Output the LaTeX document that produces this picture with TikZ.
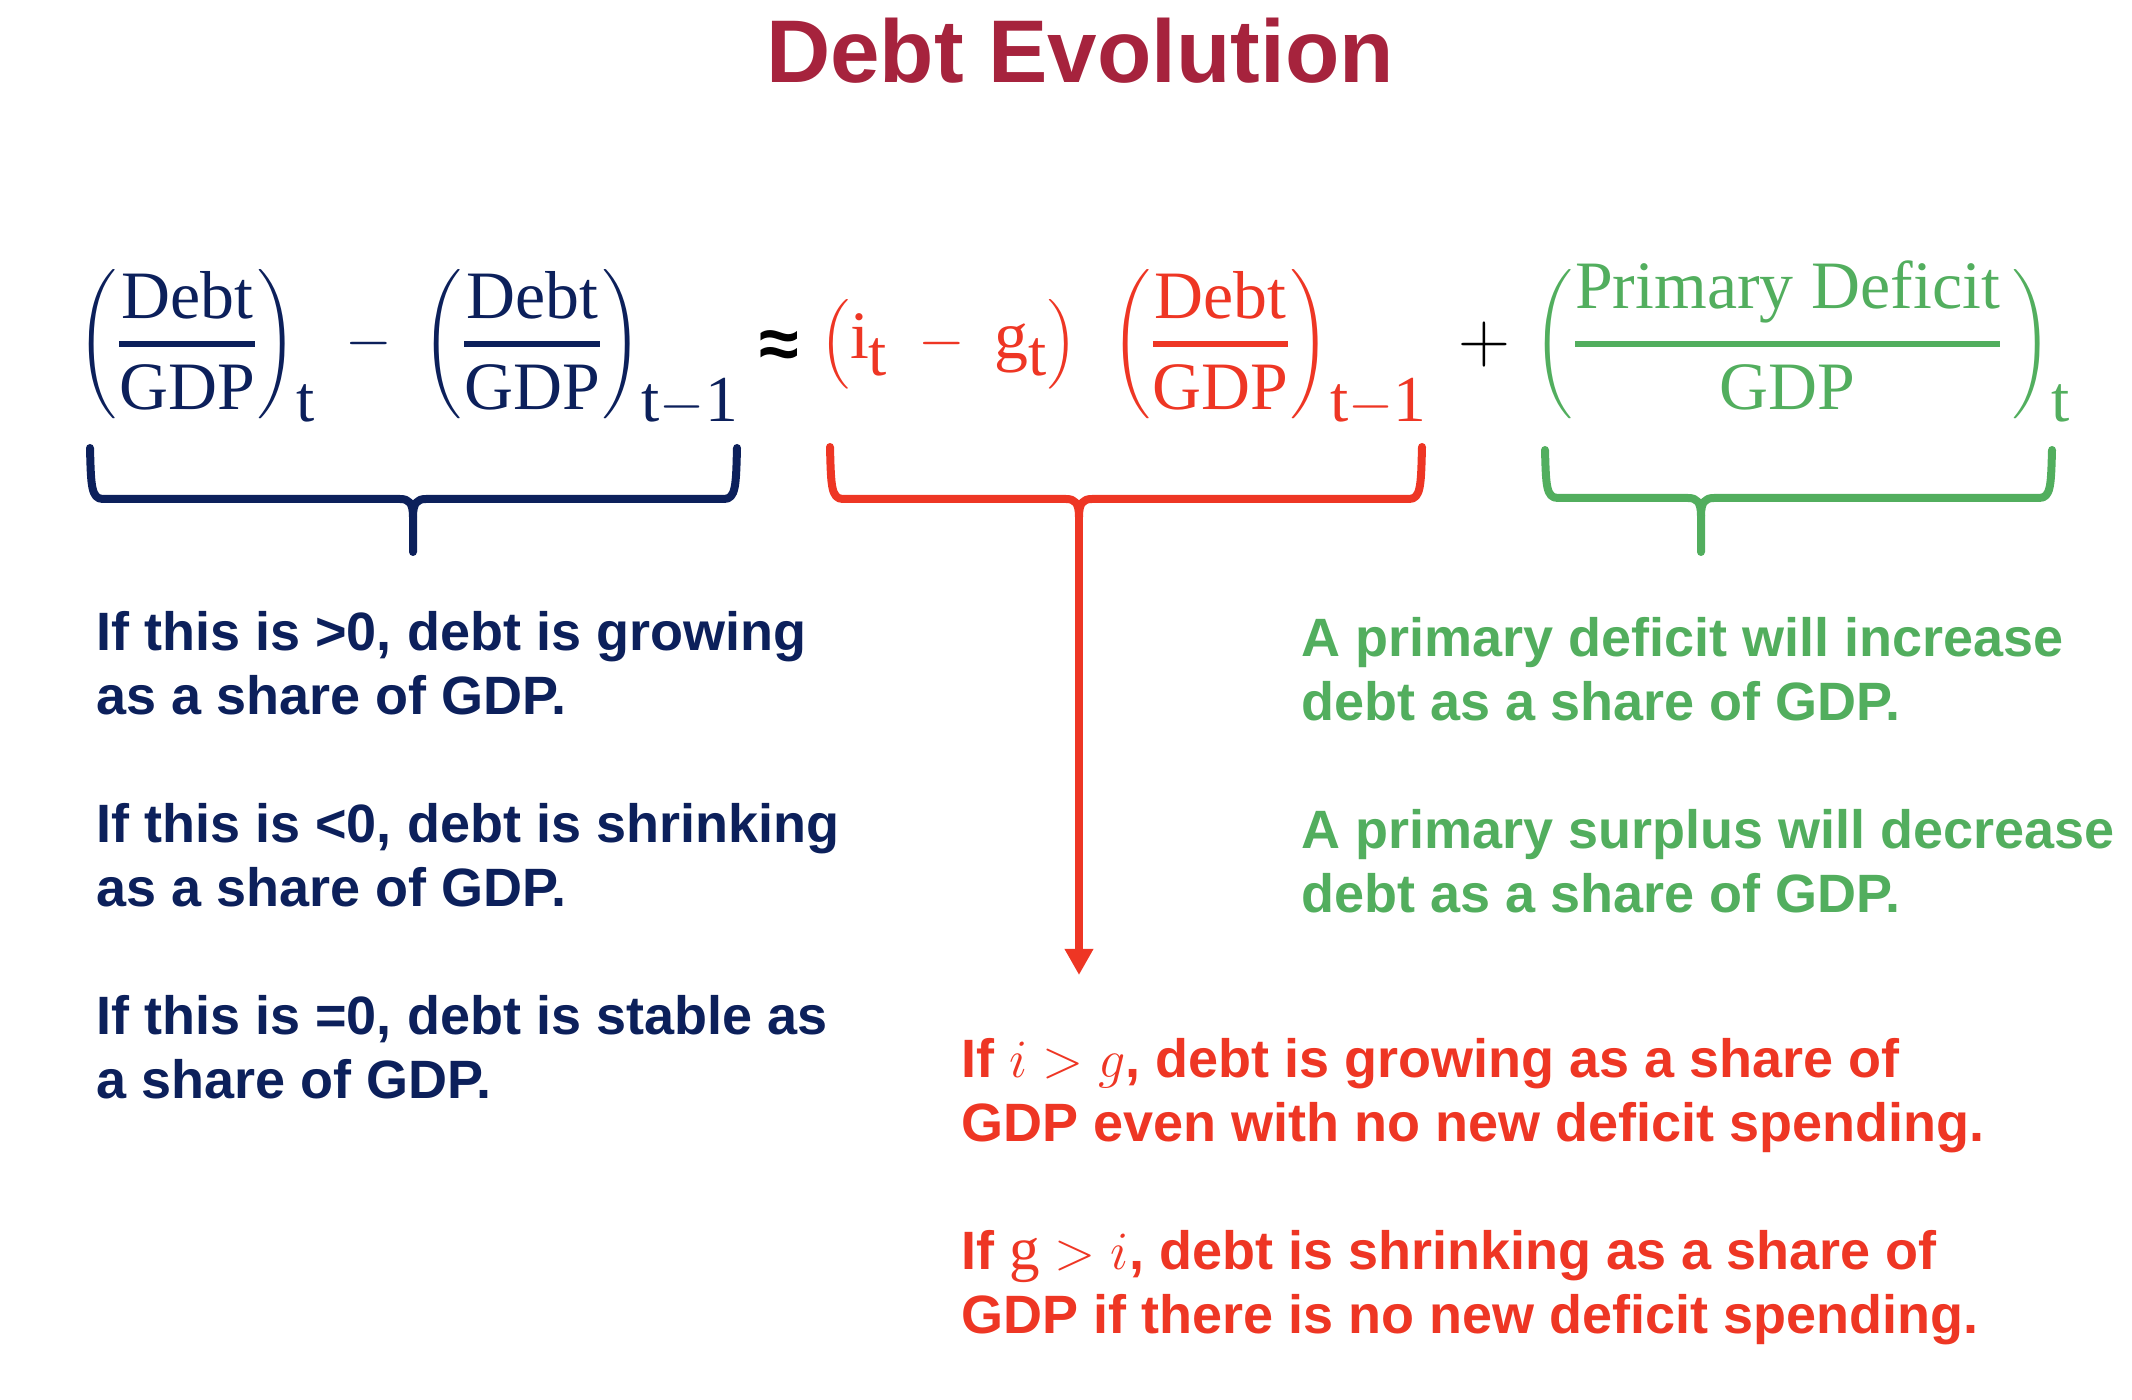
\RequirePackage{fix-cm}
\documentclass[tikz,border=0pt]{standalone}
\usepackage{amsmath}
\usepackage{fontspec}
\newfontfamily\arialbf{Liberation Sans}
\setmathrm{Liberation Serif}[Scale=1.13]
\DeclareMathSizes{30}{30}{29}{20}
\newcommand{\thickfrac}[2]{\genfrac{}{}{3pt}{0}{#1}{#2}}
\usetikzlibrary{arrows.meta}
\definecolor{navyc}{RGB}{12,32,91}
\definecolor{redc}{RGB}{238,54,36}
\definecolor{greenc}{RGB}{82,174,94}
\definecolor{titlec}{RGB}{166,35,61}
\begin{document}
\begin{tikzpicture}[x=0.5pt,y=-0.5pt,
  brace/.style={line width=4pt,line cap=round,line join=round},
  eq/.style={inner sep=0pt,anchor=base west,font=\fontsize{30}{36}\selectfont},
  note/.style={inner sep=0pt,anchor=base west,align=left,font=\arialbf\bfseries\fontsize{27}{32}\selectfont}]
\useasboundingbox (0,0) rectangle (2132,1400);
\node[inner sep=0pt,anchor=base,text=titlec,font=\arialbf\bfseries\fontsize{44.5}{50}\selectfont] (title) at (1080,83) {Debt Evolution};
% equation
\node[eq,text=navyc] (lhs) at (77,359) {$\biggl(\thickfrac{\mathrm{Debt}}{\mathrm{GDP}}\biggr)_{\mathrm{t}}\;-\;\biggl(\thickfrac{\mathrm{Debt}}{\mathrm{GDP}}\biggr)_{\mathrm{t}-\mathrm{1}}$};
\node[inner sep=0pt,anchor=base,font=\arialbf\bfseries\fontsize{36}{40}\selectfont] (approx) at (779,369) {≈};
\node[eq,text=redc] (rterm) at (820,359) {$\bigl(\mathrm{i}_{\mathrm{t}}\;-\;\mathrm{g}_{\mathrm{t}}\bigr)\;\;\biggl(\thickfrac{\mathrm{Debt}}{\mathrm{GDP}}\biggr)_{\mathrm{t}-\mathrm{1}}$};
\node[eq,anchor=base,font=\fontsize{36}{40}\selectfont] (plus) at (1484,363) {$+$};
\node[eq,text=greenc] (gterm) at (1533,359) {$\biggl(\thickfrac{\mathrm{Primary\ Deficit}}{\mathrm{GDP}}\,\biggr)_{\mathrm{t}}$};
% braces
\draw[brace,navyc] (90,448) .. controls (91,485) and (91,499) .. (103,499) -- (400,499) .. controls (409,499) and (413,503) .. (413,517) -- (413,552);
\draw[brace,navyc] (737,448) .. controls (736,485) and (736,499) .. (724,499) -- (426,499) .. controls (417,499) and (413,503) .. (413,517);
\draw[brace,redc] (830,447) .. controls (831,485) and (831,499) .. (843,499) -- (1066,499) .. controls (1075,499) and (1079,503) .. (1079,517);
\draw[brace,redc] (1422,447) .. controls (1421,485) and (1421,499) .. (1409,499) -- (1092,499) .. controls (1083,499) and (1079,503) .. (1079,517);
\draw[brace,greenc] (1545,450) .. controls (1546,485) and (1546,498) .. (1558,498) -- (1688,498) .. controls (1697,498) and (1701,502) .. (1701,516) -- (1701,552);
\draw[brace,greenc] (2052,450) .. controls (2051,485) and (2051,498) .. (2039,498) -- (1714,498) .. controls (1705,498) and (1701,502) .. (1701,516);
\coordinate (rtip) at (1079,512);
\coordinate (rend) at (1079,975);
\draw[redc,line width=4pt,-{Triangle[width=13.5pt,length=13pt]}] (rtip) -- (rend);
% notes
\node[note,text=navyc] (ntxt) at (96,1098) {If this is >0, debt is growing\\as a share of GDP.\\[32pt]If this is <0, debt is shrinking\\as a share of GDP.\\[32pt]If this is =0, debt is stable as\\a share of GDP.};
\node[note,text=greenc] (gtxt) at (1301,913) {A primary deficit will increase\\debt as a share of GDP.\\[32pt]A primary surplus will decrease\\debt as a share of GDP.};
\node[note,text=redc] (rtxt) at (961,1333) {If $i>g$, debt is growing as a share of\\GDP even with no new deficit spending.\\[32pt]If $\mathrm{g}>i$, debt is shrinking as a share of\\GDP if there is no new deficit spending.};
\end{tikzpicture}
\end{document}
